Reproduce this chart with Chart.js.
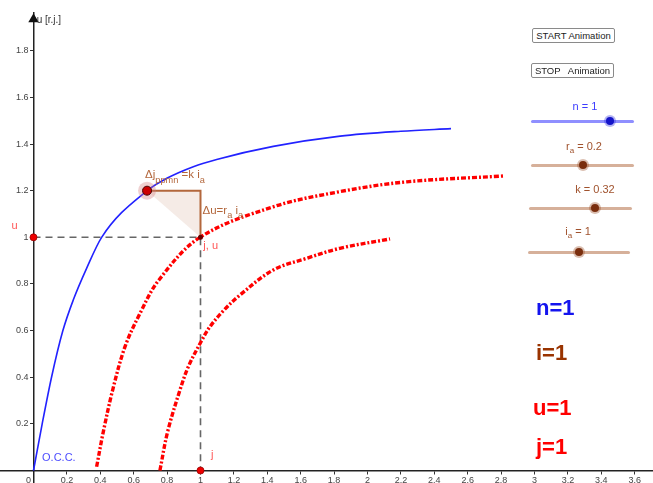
<!DOCTYPE html>
<html>
<head>
<meta charset="utf-8">
<script src="https://cdn.jsdelivr.net/npm/chart.js@4.4.1/dist/chart.umd.min.js"></script>
<style>
  body { margin: 0; background: #fff; font-family: "Liberation Sans", Arial, sans-serif; }
  #wrap { position: relative; width: 653px; height: 483px; overflow: hidden; }
  #chart { position: absolute; left: 0; top: 0; }
  .btn { position: absolute; height: 13px; border: 1px solid #8a8a8a; border-radius: 2px; background: #fff;
         font-size: 9.5px; line-height: 13px; text-align: center; color: #222; white-space: pre; }
  .slbl { position: absolute; width: 80px; text-align: center; font-size: 11px; line-height: 12px; }
  .slbl sub { font-size: 8px; }
  .sline { position: absolute; height: 3px; border-radius: 2px; }
  .knob { position: absolute; width: 8px; height: 8px; border-radius: 50%; }
  .big { position: absolute; font-weight: bold; font-size: 22px; line-height: 24px; }
</style>
</head>
<body>
<div id="wrap">
  <canvas id="chart" width="653" height="483"></canvas>
  <div class="btn" style="left:532px; top:28px; width:81px;">START Animation</div>
  <div class="btn" style="left:531px; top:63px; width:81px;">STOP   Animation</div>
  <div id="panel"></div>
</div>
<script>
// O.C.C. curve (blue)
var occX = [0, 0.052, 0.108, 0.176, 0.238, 0.318, 0.408, 0.68, 0.798, 0.957, 1.097, 1.436, 1.836, 2.2, 2.5];
var occY = [0, 0.20, 0.40, 0.60, 0.731, 0.867, 1.00, 1.20, 1.253, 1.303, 1.334, 1.39, 1.434, 1.455, 1.466];

// traced load curves (red)
var load1X = [0.378, 0.418, 0.474, 0.548, 0.638, 0.751, 0.997, 1.436, 1.835, 2.235, 2.813];
var load1Y = [0.016, 0.166, 0.345, 0.531, 0.674, 0.817, 1.00, 1.131, 1.196, 1.238, 1.263];
var load2X = [0.757, 0.803, 0.877, 0.927, 1.003, 1.057, 1.137, 1.237, 1.436, 1.636, 1.835, 2.135];
var load2Y = [0.0, 0.166, 0.345, 0.445, 0.552, 0.617, 0.685, 0.753, 0.86, 0.91, 0.953, 0.993];

// working point and characteristic triangle
var pointJ = 1, pointU = 1;
var occPointX = 0.68, occPointY = 1.2;
var triX = [0.68, 1, 1, 0.68];
var triY = [1.2, 1.2, 1, 1.2];

// axis ticks
var xTicks = [0, 0.2, 0.4, 0.6, 0.8, 1, 1.2, 1.4, 1.6, 1.8, 2, 2.2, 2.4, 2.6, 2.8, 3, 3.2, 3.4, 3.6];
var yTicks = [0.2, 0.4, 0.6, 0.8, 1, 1.2, 1.4, 1.6, 1.8];

function pts(xs, ys) {
    return xs.map(function(v, i) { return {x: v, y: ys[i]}; });
}

var brown = '#b3673c';
var labelRed = '#ff5555';

var graphLabels = [
    {x: 0.019, y: 1.932, color: '#333', size: 10, parts: [{t: 'u [r.j.]'}]},
    {x: -0.132, y: 1.048, color: labelRed, size: 11, parts: [{t: 'u'}]},
    {x: 1.017, y: 0.963, color: labelRed, size: 11, parts: [{t: 'j, u'}]},
    {x: 1.063, y: 0.066, color: labelRed, size: 11, parts: [{t: 'j'}]},
    {x: 0.051, y: 0.055, color: '#4d4dff', size: 11, parts: [{t: 'O.C.C.'}]},
    {x: 0.668, y: 1.267, color: brown, size: 11.5, parts: [{t: 'Δj'}, {t: 'ppmn', sub: true}, {t: ' =k i'}, {t: 'a', sub: true}]},
    {x: 1.012, y: 1.114, color: brown, size: 11.5, parts: [{t: 'Δu=r'}, {t: 'a', sub: true}, {t: ' i'}, {t: 'a', sub: true}]}
];

function drawRich(ctx, px, py, label) {
    var cx = px;
    label.parts.forEach(function(p) {
        var size = p.sub ? label.size * 0.8 : label.size;
        ctx.font = size + 'px "Liberation Sans", Arial, sans-serif';
        ctx.fillStyle = label.color;
        ctx.textAlign = 'left';
        ctx.textBaseline = 'middle';
        ctx.fillText(p.t, cx, p.sub ? py + label.size * 0.45 : py);
        cx += ctx.measureText(p.t).width;
    });
}

var labelPlugin = {
    id: 'graphLabels',
    afterDatasetsDraw: function(chart) {
        var ctx = chart.ctx;
        var sx = chart.scales.x, sy = chart.scales.y;
        ctx.save();
        graphLabels.forEach(function(l) {
            drawRich(ctx, sx.getPixelForValue(l.x), sy.getPixelForValue(l.y), l);
        });
        ctx.restore();
    }
};

function keepTicks(list) {
    return function(axis) {
        axis.ticks = list.map(function(v) { return {value: v}; });
    };
}

// axes sit on the origin: let them take no room at the edges
function noPadding(axis) {
    axis.paddingLeft = 0;
    axis.paddingRight = 0;
    axis.paddingTop = 0;
    axis.paddingBottom = 0;
}

var lineBase = {showLine: true, pointRadius: 0, pointHoverRadius: 0, tension: 0.35};

var chart = new Chart(document.getElementById('chart'), {
    type: 'scatter',
    data: {
        datasets: [
            Object.assign({}, lineBase, {
                label: 'triangle', data: pts(triX, triY), fill: 'shape', tension: 0,
                backgroundColor: 'rgba(179,103,60,0.13)', borderWidth: 0, order: 9
            }),
            Object.assign({}, lineBase, {
                label: 'edges', data: pts(triX.slice(0, 3), triY.slice(0, 3)), tension: 0,
                borderColor: brown, borderWidth: 2, order: 5
            }),
            Object.assign({}, lineBase, {
                label: 'guides', data: pts([0, pointJ, pointJ], [pointU, pointU, 0]), tension: 0,
                borderColor: '#666', borderWidth: 1.6, borderDash: [7, 5], order: 6
            }),
            Object.assign({}, lineBase, {
                label: 'O.C.C.', data: pts(occX, occY), cubicInterpolationMode: 'monotone',
                borderColor: '#2222ff', borderWidth: 1.6, order: 4
            }),
            Object.assign({}, lineBase, {
                label: 'load 1', data: pts(load1X, load1Y), borderColor: '#ff0000', borderWidth: 3.4,
                borderDash: [5, 2, 2, 2], order: 4
            }),
            Object.assign({}, lineBase, {
                label: 'load 2', data: pts(load2X, load2Y), borderColor: '#ff0000', borderWidth: 3.4,
                borderDash: [5, 2, 2, 2], order: 4
            }),
            {
                label: 'halo', data: [{x: occPointX, y: occPointY}], pointRadius: 9,
                backgroundColor: 'rgba(210,120,120,0.35)', borderWidth: 0, order: 3
            },
            {
                label: 'occ point', data: [{x: occPointX, y: occPointY}], pointRadius: 4.5,
                backgroundColor: '#cc0000', borderColor: '#4a0000', borderWidth: 1, order: 2
            },
            {
                label: 'marks', data: pts([0, pointJ], [pointU, 0]), pointRadius: 3.5,
                backgroundColor: '#ee0000', borderColor: '#990000', borderWidth: 0.8, order: 1
            },
            {
                label: 'working point', data: [{x: pointJ, y: pointU}], pointRadius: 2.5,
                backgroundColor: '#6a0000', borderWidth: 0, order: 1
            },
            {
                label: 'arrow', data: [{x: 0, y: 1.935}], pointStyle: 'triangle', pointRadius: 6,
                backgroundColor: '#111', borderWidth: 0, clip: false, order: 0
            }
        ]
    },
    options: {
        responsive: false,
        animation: false,
        events: [],
        layout: {padding: {top: 13, left: 0, right: 0, bottom: 0}, autoPadding: false},
        plugins: {legend: {display: false}, tooltip: {enabled: false}},
        scales: {
            x: {
                type: 'linear', position: {y: 0}, min: -0.2006, max: 3.7096,
                afterBuildTicks: keepTicks(xTicks),
                afterFit: noPadding,
                grid: {drawOnChartArea: false, drawTicks: true, tickLength: 3, color: '#333'},
                border: {display: true, color: '#222', width: 1.5},
                ticks: {
                    autoSkip: false, maxRotation: 0, padding: 2, color: '#444',
                    font: {size: 9, family: '"Liberation Sans", Arial, sans-serif'},
                    // GeoGebra sets the origin label a little to the left
                    callback: function(v) { return v === 0 ? '0    ' : String(+v.toFixed(1)); }
                }
            },
            y: {
                type: 'linear', position: {x: 0}, min: -0.0536, max: 1.962,
                afterBuildTicks: keepTicks(yTicks),
                afterFit: noPadding,
                grid: {drawOnChartArea: false, drawTicks: true, tickLength: 3, color: '#333'},
                border: {display: true, color: '#222', width: 1.5},
                ticks: {
                    autoSkip: false, padding: 2, color: '#444',
                    font: {size: 9, family: '"Liberation Sans", Arial, sans-serif'},
                    callback: function(v) { return String(+v.toFixed(1)) + '  '; }
                }
            }
        }
    },
    plugins: [labelPlugin]
});

// GeoGebra style control panel
var sliders = [
    {html: 'n = 1', color: '#3c3cff', line: '#8f8fff', knob: '#1414c8', ring: 'rgba(40,40,220,0.35)', x1: 531, x2: 634, y: 121, k: 610, ly: 106},
    {html: 'r<sub>a</sub> = 0.2', color: '#a0522d', line: '#d6b09a', knob: '#7a2e0e', ring: 'rgba(150,70,30,0.35)', x1: 531, x2: 634, y: 165, k: 583, ly: 146},
    {html: 'k = 0.32', color: '#a0522d', line: '#d6b09a', knob: '#7a2e0e', ring: 'rgba(150,70,30,0.35)', x1: 529, x2: 632, y: 208, k: 595, ly: 189},
    {html: 'i<sub>a</sub> = 1', color: '#a0522d', line: '#d6b09a', knob: '#7a2e0e', ring: 'rgba(150,70,30,0.35)', x1: 528, x2: 630, y: 252, k: 579, ly: 231}
];
var labelCenters = [585, 584, 595, 578];
var bigTexts = [
    {t: 'n=1', color: '#1414ee', x: 536, y: 296},
    {t: 'i=1', color: '#993300', x: 536, y: 341},
    {t: 'u=1', color: '#ff0000', x: 533, y: 396},
    {t: 'j=1', color: '#ff0000', x: 536, y: 435}
];

var panel = document.getElementById('panel');
sliders.forEach(function(s, i) {
    var lbl = document.createElement('div');
    lbl.className = 'slbl';
    lbl.innerHTML = s.html;
    lbl.style.cssText = 'left:' + (labelCenters[i] - 40) + 'px; top:' + (s.ly - 6) + 'px; color:' + s.color + ';';
    panel.appendChild(lbl);
    var ln = document.createElement('div');
    ln.className = 'sline';
    ln.style.cssText = 'left:' + s.x1 + 'px; width:' + (s.x2 - s.x1) + 'px; top:' + (s.y - 1.5) + 'px; background:' + s.line + ';';
    panel.appendChild(ln);
    var kb = document.createElement('div');
    kb.className = 'knob';
    kb.style.cssText = 'left:' + (s.k - 4) + 'px; top:' + (s.y - 4) + 'px; background:' + s.knob + '; box-shadow:0 0 0 2px ' + s.ring + ';';
    panel.appendChild(kb);
});
bigTexts.forEach(function(b) {
    var d = document.createElement('div');
    d.className = 'big';
    d.textContent = b.t;
    d.style.cssText = 'left:' + b.x + 'px; top:' + b.y + 'px; color:' + b.color + ';';
    panel.appendChild(d);
});
</script>
</body>
</html>
